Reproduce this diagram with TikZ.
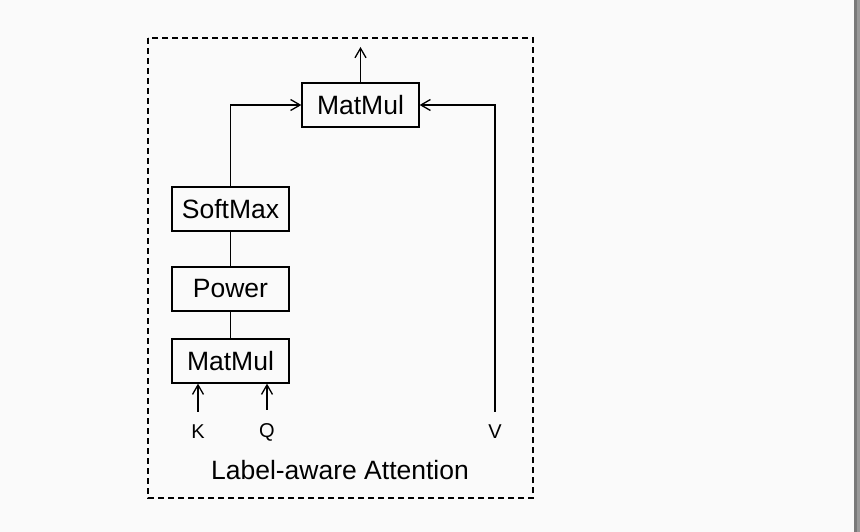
\documentclass[tikz,border=0pt]{standalone}
\usepackage{fontspec}
\setmainfont{Liberation Sans}
\usetikzlibrary{arrows.meta}
\begin{document}
\begin{tikzpicture}[x=1pt,y=-1pt,
  box/.style={draw, line width=1.3pt, minimum width=117pt, minimum height=44pt, inner sep=0pt, font=\fontsize{26.5}{30}\selectfont},
  lbl/.style={inner sep=0pt, font=\fontsize{20}{24}\selectfont},
  conn/.style={line width=1.3pt, -{Straight Barb[length=9.5pt,width=11pt,line width=1.3pt]}},
  plain/.style={line width=1.3pt}]
\useasboundingbox (0,0) rectangle (860,532);
\fill[white!98!black] (0,0) rectangle (860,532);
\fill[gray!95!black] (854,0) rectangle (857,532);
\fill[gray!80] (857,0) rectangle (860,532);
\draw[line width=1.2pt, dash pattern=on 6pt off 4pt] (148,38) rectangle (533,498);
\node[box] (mm2) at (360.5,105) {MatMul};
\node[box] (sm) at (230.5,209) {SoftMax};
\node[box] (pw) at (230.5,289) {Power};
\node[box] (mm1) at (230.5,361) {MatMul};
\node[lbl] (K) at (198,432) {K};
\node[lbl] (Q) at (267,432) {Q};
\node[lbl] (V) at (495,432) {V};
\node[inner sep=0pt, font=\fontsize{26.5}{30}\selectfont] (title) at (340,470) {Label-aware Attention};
\coordinate (out) at (360.5,47);
\draw[plain] (mm1) -- (pw);
\draw[plain] (pw) -- (sm);
\draw[conn] (sm.north) |- (mm2.west);
\draw[conn] (mm2.north) -- (out);
\draw[conn, shorten <=13pt] (V.north) |- (mm2.east);
\draw[conn, shorten <=13pt] (K.north) -- (K.north |- mm1.south);
\draw[conn, shorten <=13pt] (Q.north) -- (Q.north |- mm1.south);
\end{tikzpicture}
\end{document}
